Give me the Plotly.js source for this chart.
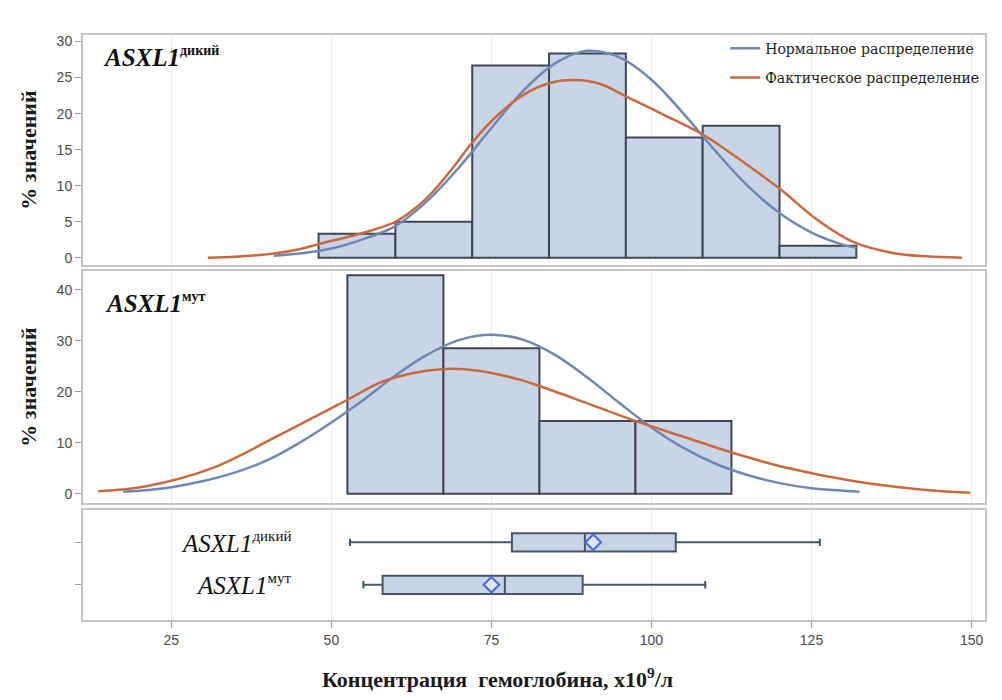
<!DOCTYPE html>
<html>
<head>
<meta charset="utf-8">
<script src="https://cdn.plot.ly/plotly-3.0.1.min.js"></script>
<style>
  html, body { margin: 0; padding: 0; background: #ffffff; }
  #chart { width: 1002px; height: 700px; }
</style>
</head>
<body>
<div id="chart"></div>
<script>
// Hemoglobin histograms, fitted curves and box plots for ASXL1 wild-type vs mutant

// Wild-type histogram (bin edges and percent of values)
const wildBinEdges = [48, 60, 72, 84, 96, 108, 120, 132];
const wildPct = [3.33, 5.00, 26.67, 28.33, 16.67, 18.33, 1.67];

// Mutant histogram
const mutBinEdges = [52.5, 67.5, 82.5, 97.5, 112.5];
const mutPct = [42.86, 28.57, 14.29, 14.29];

// Normal fit, wild-type
const wildNormalX = [41, 45, 50, 55, 60, 65, 70, 75, 80, 85, 90, 95, 100, 105, 110, 115, 120, 125, 130, 132];
const wildNormalY = [0.3, 0.6, 1.3, 2.6, 4.4, 7.9, 12.6, 18.0, 23.2, 27.0, 28.7, 27.8, 24.7, 20.0, 14.8, 10.0, 6.2, 3.5, 1.8, 1.4];

// Kernel (observed) density, wild-type
const wildKernelX = [30.7, 35, 41, 45, 48, 53, 57, 60, 63, 66, 69, 72, 76, 80, 84, 88, 92, 96, 102, 108, 114, 120, 126, 131.5, 137.7, 143, 148.5];
const wildKernelY = [0.0, 0.15, 0.6, 1.2, 1.9, 3.0, 4.0, 5.0, 6.8, 9.3, 12.5, 16.0, 19.8, 22.6, 24.2, 24.65, 24.1, 22.4, 19.8, 17.1, 13.5, 9.6, 5.2, 2.2, 0.67, 0.2, 0.0];

// Normal fit, mutant
const mutNormalX = [17.5, 20, 25, 30, 35, 40, 45, 50, 55, 60, 65, 70, 75, 80, 85, 90, 95, 100, 105, 110, 115, 120, 125, 130, 132.5];
const mutNormalY = [0.4, 0.6, 1.3, 2.5, 4.2, 6.6, 10.0, 14.0, 18.4, 23.2, 27.3, 30.2, 31.2, 30.2, 27.2, 22.8, 17.8, 13.0, 9.0, 5.9, 3.7, 2.1, 1.1, 0.6, 0.4];

// Kernel (observed) density, mutant
const mutKernelX = [13.6, 21.1, 31.5, 42, 52.6, 57.6, 62.8, 68, 73.2, 79.4, 82.6, 89.9, 97.7, 105.5, 112.8, 121.1, 131.5, 142, 149.8];
const mutKernelY = [0.5, 1.5, 5.1, 11.6, 18.5, 21.8, 23.7, 24.5, 24.1, 22.4, 21.1, 17.8, 14.2, 11.0, 8.0, 5.1, 2.5, 0.85, 0.2];

// Box plot statistics: [wild, mutant]
const boxMin = [52.9, 55.0];
const boxQ1 = [78.2, 58.0];
const boxMedian = [89.6, 77.1];
const boxQ3 = [103.8, 89.25];
const boxMax = [126.3, 108.4];
const boxMean = [90.9, 75.0];

// Axis ticks
const xTicks = [25, 50, 75, 100, 125, 150];
const wildYTicks = [0, 5, 10, 15, 20, 25, 30];
const mutYTicks = [0, 10, 20, 30, 40];

const legendNames = ['Нормальное распределение', 'Фактическое распределение'];

// ---- styling ----
const BAR_FILL = '#c9d4e7';
const BAR_LINE = '#3e4756';
const BLUE = '#6f88b2';
const ORANGE = '#c96a3e';
const FRAME = '#c4c4c4';
const GRID = '#ebebeb';
const SERIF = 'Liberation Serif';
const SANS = 'Liberation Sans Narrow, Liberation Sans, Arial, sans-serif';

const mids = e => e.slice(0, -1).map((v, i) => (v + e[i + 1]) / 2);
const widths = e => e.slice(0, -1).map((v, i) => e[i + 1] - v);

const traces = [
  {
    type: 'bar', x: mids(wildBinEdges), y: wildPct, width: widths(wildBinEdges),
    xaxis: 'x3', yaxis: 'y3', showlegend: false, hoverinfo: 'x+y',
    marker: { color: BAR_FILL, line: { color: BAR_LINE, width: 2 } }
  },
  {
    type: 'bar', x: mids(mutBinEdges), y: mutPct, width: widths(mutBinEdges),
    xaxis: 'x2', yaxis: 'y2', showlegend: false, hoverinfo: 'x+y',
    marker: { color: BAR_FILL, line: { color: BAR_LINE, width: 2 } }
  },
  {
    type: 'scatter', mode: 'lines', x: wildNormalX, y: wildNormalY,
    xaxis: 'x3', yaxis: 'y3', name: legendNames[0], legendgroup: 'n',
    line: { color: BLUE, width: 2.5, shape: 'spline', smoothing: 1 }
  },
  {
    type: 'scatter', mode: 'lines', x: wildKernelX, y: wildKernelY,
    xaxis: 'x3', yaxis: 'y3', name: legendNames[1], legendgroup: 'k',
    line: { color: ORANGE, width: 2.5, shape: 'spline', smoothing: 1 }
  },
  {
    type: 'scatter', mode: 'lines', x: mutNormalX, y: mutNormalY,
    xaxis: 'x2', yaxis: 'y2', name: legendNames[0], legendgroup: 'n', showlegend: false,
    line: { color: BLUE, width: 2.5, shape: 'spline', smoothing: 1 }
  },
  {
    type: 'scatter', mode: 'lines', x: mutKernelX, y: mutKernelY,
    xaxis: 'x2', yaxis: 'y2', name: legendNames[1], legendgroup: 'k', showlegend: false,
    line: { color: ORANGE, width: 2.5, shape: 'spline', smoothing: 1 }
  },
  {
    type: 'box', orientation: 'h', y: [1, 0],
    q1: boxQ1, median: boxMedian, q3: boxQ3, lowerfence: boxMin, upperfence: boxMax,
    width: 0.43, whiskerwidth: 0.4, boxpoints: false,
    xaxis: 'x', yaxis: 'y', showlegend: false,
    fillcolor: BAR_FILL, line: { color: '#4a5468', width: 2 }
  },
  {
    type: 'scatter', mode: 'markers', x: boxMean, y: [1, 0],
    xaxis: 'x', yaxis: 'y', showlegend: false,
    marker: { symbol: 'diamond', size: 12, color: '#dfe7f7', line: { color: '#4f6fcf', width: 2.2 } }
  }
];

const xCommon = {
  range: [11.2, 152.1], tickvals: xTicks, showgrid: true, gridcolor: GRID, gridwidth: 1,
  zeroline: false, showline: true, mirror: true, linecolor: FRAME, linewidth: 2
};

const yCommon = {
  zeroline: false, showgrid: false, showline: true, mirror: true, linecolor: FRAME, linewidth: 2,
  ticks: 'outside', ticklen: 6, tickwidth: 1, tickcolor: '#9a9a9a',
  tickfont: { family: SANS, size: 14, color: '#4a4a4a' }
};

const yTitle = {
  text: '<b>% значений</b>',
  font: { family: SERIF, size: 22, color: '#1a1a1a' },
  standoff: 14
};

const layout = {
  width: 1002, height: 700,
  margin: { l: 83, r: 17, t: 35, b: 80 },
  paper_bgcolor: '#ffffff', plot_bgcolor: '#ffffff',
  barmode: 'overlay',
  xaxis: Object.assign({}, xCommon, {
    anchor: 'y', domain: [0, 1],
    ticks: 'outside', ticklen: 6, tickwidth: 1, tickcolor: '#9a9a9a',
    tickfont: { family: SANS, size: 14, color: '#4a4a4a' }
  }),
  xaxis2: Object.assign({}, xCommon, { anchor: 'y2', matches: 'x', showticklabels: false, ticks: '' }),
  xaxis3: Object.assign({}, xCommon, { anchor: 'y3', matches: 'x', showticklabels: false, ticks: '' }),
  yaxis: Object.assign({}, yCommon, {
    domain: [0, 0.188], range: [-0.83, 1.76], tickvals: [0, 1], showticklabels: false
  }),
  yaxis2: Object.assign({}, yCommon, {
    domain: [0.2, 0.5966], range: [-1.8, 43.7], tickvals: mutYTicks, title: yTitle
  }),
  yaxis3: Object.assign({}, yCommon, {
    domain: [0.6068, 1], range: [-1.0, 30.9], tickvals: wildYTicks, title: yTitle
  }),
  legend: {
    x: 0.712, y: 1.004, xanchor: 'left', yanchor: 'top',
    bgcolor: 'rgba(0,0,0,0)', traceorder: 'grouped', tracegroupgap: 8,
    font: { family: 'DejaVu Serif', size: 14, color: '#222' }
  },
  annotations: [
    {
      xref: 'paper', yref: 'paper', x: 0.02, y: 0.962, xanchor: 'left', yanchor: 'middle', showarrow: false,
      text: '<b><i>ASXL1</i></b><sup><b><span style="font-size:14px">дикий</span></b></sup>',
      font: { family: SERIF, size: 25, color: '#111' }
    },
    {
      xref: 'paper', yref: 'paper', x: 0.022, y: 0.542, xanchor: 'left', yanchor: 'middle', showarrow: false,
      text: '<b><i>ASXL1</i></b><sup><b><span style="font-size:14px">мут</span></b></sup>',
      font: { family: SERIF, size: 25, color: '#111' }
    },
    {
      xref: 'paper', yref: 'y', x: 0.233, y: 1, xanchor: 'right', yanchor: 'middle', showarrow: false,
      text: '<i>ASXL1</i><sup><span style="font-size:15px">дикий</span></sup>',
      font: { family: SERIF, size: 25, color: '#111' }
    },
    {
      xref: 'paper', yref: 'y', x: 0.233, y: 0, xanchor: 'right', yanchor: 'middle', showarrow: false,
      text: '<i>ASXL1</i><sup><span style="font-size:15px">мут</span></sup>',
      font: { family: SERIF, size: 25, color: '#111' }
    },
    {
      xref: 'paper', yref: 'paper', x: 0.459, y: -0.099, xanchor: 'center', yanchor: 'middle', showarrow: false,
      text: '<b>Концентрация  гемоглобина, x10<sup>9</sup>/л</b>',
      font: { family: SERIF, size: 22, color: '#1a1a1a' }
    }
  ]
};

Plotly.newPlot('chart', traces, layout, { staticPlot: true, displayModeBar: false });
</script>
</body>
</html>
